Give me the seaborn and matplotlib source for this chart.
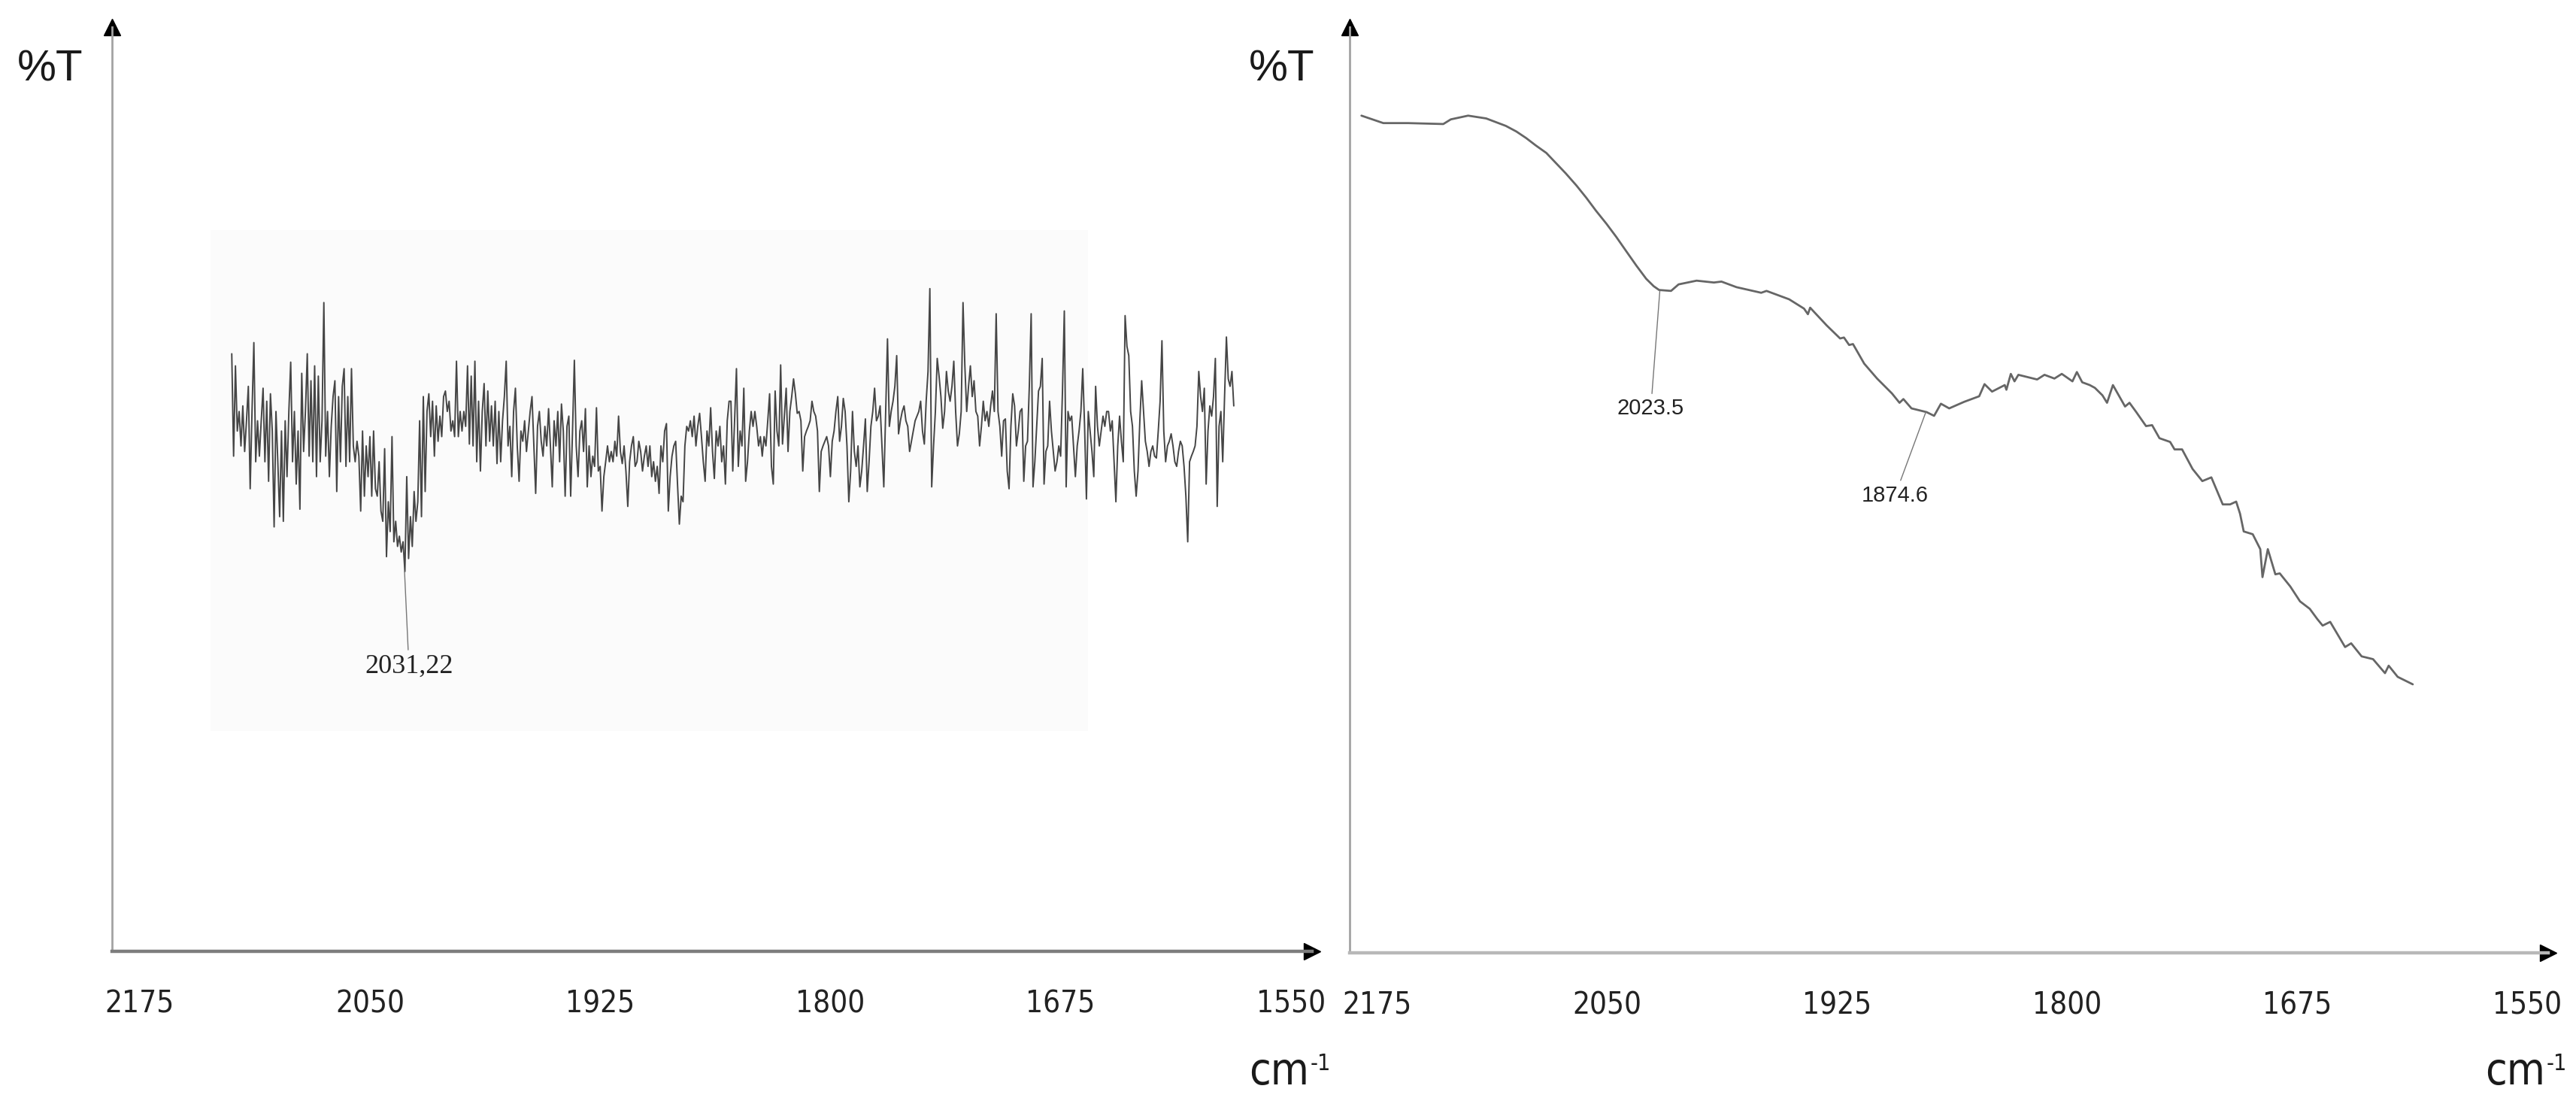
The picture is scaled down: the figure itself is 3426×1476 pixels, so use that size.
import matplotlib
matplotlib.use("Agg")
import matplotlib.pyplot as plt
from matplotlib.patches import Rectangle
from matplotlib.text import Annotation
import seaborn as sns

# IR spectra: wavenumber in cm-1, transmittance in arbitrary %T
wn_left = [
    2125, 2124, 2123, 2122, 2121, 2120, 2119, 2118, 2117, 2116, 2115, 2114, 2113, 2112, 2111, 2110, 2109, 2108, 2107, 2106, 2105, 2104, 2103, 2102, 2101,
    2100, 2099, 2098, 2097, 2096, 2095, 2094, 2093, 2092, 2091, 2090, 2089, 2088, 2087, 2086, 2085, 2084, 2083, 2082, 2081, 2080, 2079, 2078, 2077, 2076,
    2075, 2074, 2073, 2072, 2071, 2070, 2069, 2068, 2067, 2066, 2065, 2064, 2063, 2062, 2061, 2060, 2059, 2058, 2057, 2056, 2055, 2054, 2053, 2052, 2051,
    2050, 2049, 2048, 2047, 2046, 2045, 2044, 2043, 2042, 2041, 2040, 2039, 2038, 2037, 2036, 2035, 2034, 2033, 2032, 2031, 2030, 2029, 2028, 2027, 2026,
    2025, 2024, 2023, 2022, 2021, 2020, 2019, 2018, 2017, 2016, 2015, 2014, 2013, 2012, 2011, 2010, 2009, 2008, 2007, 2006, 2005, 2004, 2003, 2002, 2001,
    2000, 1999, 1998, 1997, 1996, 1995, 1994, 1993, 1992, 1991, 1990, 1989, 1988, 1987, 1986, 1985, 1984, 1983, 1982, 1981, 1980, 1979, 1978, 1977, 1976,
    1975, 1974, 1973, 1972, 1971, 1970, 1969, 1968, 1967, 1966, 1965, 1964, 1963, 1962, 1961, 1960, 1959, 1958, 1957, 1956, 1955, 1954, 1953, 1952, 1951,
    1950, 1949, 1948, 1947, 1946, 1945, 1944, 1943, 1942, 1941, 1940, 1939, 1938, 1937, 1936, 1935, 1934, 1933, 1932, 1931, 1930, 1929, 1928, 1927, 1926,
    1925, 1924, 1923, 1922, 1921, 1920, 1919, 1918, 1917, 1916, 1915, 1914, 1913, 1912, 1911, 1910, 1909, 1908, 1907, 1906, 1905, 1904, 1903, 1902, 1901,
    1900, 1899, 1898, 1897, 1896, 1895, 1894, 1893, 1892, 1891, 1890, 1889, 1888, 1887, 1886, 1885, 1884, 1883, 1882, 1881, 1880, 1879, 1878, 1877, 1876,
    1875, 1874, 1873, 1872, 1871, 1870, 1869, 1868, 1867, 1866, 1865, 1864, 1863, 1862, 1861, 1860, 1859, 1858, 1857, 1856, 1855, 1854, 1853, 1852, 1851,
    1850, 1849, 1848, 1847, 1846, 1845, 1844, 1843, 1842, 1841, 1840, 1839, 1838, 1837, 1836, 1835, 1834, 1833, 1832, 1831, 1830, 1829, 1828, 1827, 1826,
    1825, 1824, 1823, 1822, 1821, 1820, 1819, 1818, 1817, 1816, 1815, 1814, 1813, 1812, 1811, 1810, 1809, 1808, 1807, 1806, 1805, 1804, 1803, 1802, 1801,
    1800, 1799, 1798, 1797, 1796, 1795, 1794, 1793, 1792, 1791, 1790, 1789, 1788, 1787, 1786, 1785, 1784, 1783, 1782, 1781, 1780, 1779, 1778, 1777, 1776,
    1775, 1774, 1773, 1772, 1771, 1770, 1769, 1768, 1767, 1766, 1765, 1764, 1763, 1762, 1761, 1760, 1759, 1758, 1757, 1756, 1755, 1754, 1753, 1752, 1751,
    1750, 1749, 1748, 1747, 1746, 1745, 1744, 1743, 1742, 1741, 1740, 1739, 1738, 1737, 1736, 1735, 1734, 1733, 1732, 1731, 1730, 1729, 1728, 1727, 1726,
    1725, 1724, 1723, 1722, 1721, 1720, 1719, 1718, 1717, 1716, 1715, 1714, 1713, 1712, 1711, 1710, 1709, 1708, 1707, 1706, 1705, 1704, 1703, 1702, 1701,
    1700, 1699, 1698, 1697, 1696, 1695, 1694, 1693, 1692, 1691, 1690, 1689, 1688, 1687, 1686, 1685, 1684, 1683, 1682, 1681, 1680, 1679, 1678, 1677, 1676,
    1675, 1674, 1673, 1672, 1671, 1670, 1669, 1668, 1667, 1666, 1665, 1664, 1663, 1662, 1661, 1660, 1659, 1658, 1657, 1656, 1655, 1654, 1653, 1652, 1651,
    1650, 1649, 1648, 1647, 1646, 1645, 1644, 1643, 1642, 1641, 1640, 1639, 1638, 1637, 1636, 1635, 1634, 1633, 1632, 1631, 1630, 1629, 1628, 1627, 1626,
    1625, 1624, 1623, 1622, 1621, 1620, 1619, 1618, 1617, 1616, 1615, 1614, 1613, 1612, 1611, 1610, 1609, 1608, 1607, 1606, 1605, 1604, 1603, 1602, 1601,
    1600, 1599, 1598, 1597, 1596, 1595, 1594, 1593, 1592, 1591, 1590, 1589, 1588, 1587, 1586, 1585, 1584, 1583, 1582, 1581,
]
t_left = [
    64.2, 53.2, 62.9, 55.9, 58.0, 54.3, 58.6, 53.7, 57.0, 60.7, 49.7, 58.0, 65.4, 52.6, 57.0, 53.2, 57.0, 60.5, 52.6, 59.1, 50.5, 59.9, 55.9, 45.6, 58.0,
    52.6, 46.7, 55.9, 46.2, 57.0, 51.0, 58.0, 63.3, 52.6, 58.0, 50.2, 55.9, 47.5, 62.1, 53.7, 58.0, 64.2, 53.2, 61.3, 52.6, 62.9, 51.0, 61.8, 52.6, 57.0,
    69.7, 53.2, 58.0, 51.0, 56.4, 59.6, 61.3, 49.4, 59.6, 52.6, 60.7, 62.6, 52.1, 59.6, 52.6, 62.6, 54.3, 52.6, 54.8, 53.2, 47.3, 55.9, 48.9, 54.3, 51.0,
    55.3, 48.9, 55.9, 49.7, 48.9, 52.6, 47.3, 46.2, 54.0, 42.4, 48.3, 45.1, 55.3, 44.0, 46.2, 43.5, 44.6, 42.9, 44.0, 40.8, 51.0, 42.2, 46.7, 43.5, 49.4,
    46.2, 48.3, 57.0, 46.7, 59.6, 49.4, 58.0, 59.9, 55.3, 59.1, 53.2, 58.6, 54.8, 57.5, 55.3, 59.6, 60.2, 58.0, 59.1, 55.9, 57.0, 55.3, 63.4, 55.3, 58.0,
    55.9, 58.0, 56.4, 62.9, 54.5, 61.8, 54.3, 63.4, 52.6, 59.1, 51.6, 58.0, 61.0, 54.3, 60.2, 54.8, 58.6, 54.3, 59.1, 52.4, 58.0, 52.6, 57.0, 59.6, 63.4,
    54.3, 56.4, 51.0, 58.0, 60.5, 54.3, 50.5, 55.9, 54.8, 57.0, 53.7, 55.9, 58.0, 59.6, 54.3, 49.2, 56.4, 58.0, 54.8, 53.2, 56.4, 54.3, 58.3, 54.3, 49.9,
    57.0, 54.3, 58.0, 52.6, 58.8, 55.9, 48.9, 56.4, 57.5, 48.9, 55.9, 63.5, 54.3, 51.0, 55.9, 57.0, 53.7, 58.3, 49.9, 54.3, 51.0, 53.2, 52.1, 58.4, 51.6,
    52.1, 47.3, 51.0, 52.6, 54.3, 52.6, 53.7, 52.6, 54.8, 53.2, 57.5, 53.7, 52.4, 54.3, 51.6, 47.8, 52.6, 54.3, 55.3, 52.1, 52.6, 54.8, 53.7, 51.6, 53.2,
    54.3, 52.1, 54.3, 51.0, 52.6, 50.5, 52.1, 49.2, 54.3, 52.6, 55.9, 56.7, 47.3, 51.0, 53.2, 54.3, 54.8, 50.2, 45.9, 48.9, 48.3, 54.3, 56.4, 55.9, 57.0,
    55.3, 57.5, 54.3, 56.4, 57.8, 55.3, 52.6, 50.5, 55.9, 54.3, 58.4, 53.7, 50.8, 55.9, 54.3, 56.4, 52.6, 54.3, 50.2, 57.0, 59.1, 59.1, 51.6, 57.0, 62.6,
    52.1, 55.9, 54.3, 60.5, 50.5, 52.6, 55.9, 58.0, 56.4, 58.0, 56.4, 54.3, 55.3, 53.2, 55.3, 54.3, 57.0, 59.9, 52.1, 50.2, 60.2, 55.9, 54.3, 63.0, 54.5,
    57.5, 60.5, 53.7, 58.0, 59.6, 61.5, 59.9, 57.8, 58.0, 57.0, 51.6, 55.3, 55.9, 56.4, 57.0, 59.1, 58.0, 57.5, 55.9, 49.4, 53.7, 54.3, 54.8, 55.3, 54.3,
    51.0, 54.8, 55.9, 58.0, 59.6, 54.8, 56.4, 59.4, 58.0, 54.3, 48.3, 51.6, 58.0, 53.7, 52.1, 54.3, 49.9, 51.6, 54.3, 57.2, 49.4, 52.6, 56.4, 58.0, 60.5,
    57.0, 57.5, 58.6, 54.3, 49.9, 58.0, 65.8, 56.4, 58.0, 59.1, 60.7, 64.0, 55.6, 57.0, 58.0, 58.6, 57.0, 56.4, 53.7, 54.8, 55.9, 57.0, 57.5, 58.0, 59.1,
    55.9, 54.5, 59.1, 62.3, 71.2, 49.9, 54.3, 58.0, 63.7, 61.8, 59.6, 56.2, 58.0, 62.3, 60.2, 59.1, 60.7, 63.4, 58.0, 54.3, 55.6, 58.0, 69.7, 62.9, 58.0,
    60.7, 62.9, 59.6, 61.3, 58.0, 57.5, 54.3, 56.4, 59.1, 57.0, 58.0, 56.4, 58.6, 60.2, 58.0, 68.5, 58.0, 56.4, 53.2, 57.0, 57.2, 51.6, 49.7, 56.4, 59.9,
    58.6, 54.3, 55.9, 58.0, 58.3, 50.5, 54.3, 54.8, 60.7, 68.5, 49.9, 52.6, 56.4, 60.2, 60.7, 63.7, 50.2, 53.7, 54.3, 59.1, 55.9, 53.7, 51.6, 52.6, 54.3,
    53.2, 60.2, 68.8, 49.9, 58.0, 57.0, 57.5, 54.3, 51.0, 54.3, 55.9, 58.0, 62.6, 56.4, 48.6, 58.0, 55.9, 53.7, 51.0, 60.7, 56.4, 54.3, 55.9, 57.5, 56.4,
    58.0, 58.0, 55.9, 57.0, 52.6, 48.3, 54.3, 57.5, 54.8, 52.6, 68.3, 65.0, 64.0, 58.0, 56.4, 51.6, 48.9, 51.6, 57.0, 61.3, 58.0, 54.8, 53.7, 52.1, 53.7,
    54.3, 53.2, 53.0, 55.9, 59.1, 65.6, 55.9, 52.6, 54.3, 54.8, 55.6, 54.3, 52.6, 52.1, 53.7, 54.8, 54.3, 52.1, 48.9, 44.0, 52.6, 53.2, 53.7, 54.3, 56.4,
    62.3, 59.6, 58.0, 60.5, 50.2, 55.9, 58.6, 57.5, 59.6, 63.7, 47.8, 56.4, 58.0, 52.6, 59.6, 66.0, 61.5, 60.7, 62.3, 58.6,
]

wn_right = [
    2183.6, 2171.7, 2158.3, 2139.1, 2135.0, 2125.6, 2115.8, 2105.1, 2099.4, 2094.1,
    2088.8, 2083.1, 2077.8, 2072.5, 2066.7, 2061.4, 2056.1, 2050.4, 2045.1, 2039.8,
    2034.1, 2028.8, 2024.7, 2021.8, 2015.3, 2011.2, 2001.4, 1992.0, 1987.9, 1979.7,
    1966.3, 1963.4, 1951.1, 1943.0, 1940.9, 1939.7, 1930.7, 1923.4, 1921.3, 1918.5,
    1916.4, 1910.3, 1903.3, 1895.2, 1891.1, 1889.0, 1884.6, 1876.4, 1872.3, 1868.6,
    1864.1, 1856.0, 1847.8, 1844.9, 1840.8, 1833.9, 1833.0, 1830.6, 1828.6, 1826.5,
    1816.3, 1812.3, 1806.9, 1802.9, 1797.1, 1794.7, 1791.8, 1787.7, 1784.9, 1780.8,
    1778.3, 1775.1, 1768.5, 1766.1, 1762.4, 1757.1, 1753.8, 1749.8, 1744.0, 1741.6,
    1737.5, 1731.8, 1726.5, 1721.6, 1715.4, 1711.4, 1708.1, 1706.0, 1704.0, 1699.1,
    1695.0, 1693.8, 1690.9, 1686.8, 1684.4, 1678.7, 1673.4, 1668.1, 1664.0, 1661.1,
    1657.0, 1648.9, 1645.6, 1639.9, 1633.7, 1627.2, 1625.2, 1620.3, 1612.1,
]
t_right = [
    89.8, 89.0, 89.0, 88.9, 89.4, 89.8, 89.5, 88.7, 88.1, 87.4,
    86.6, 85.8, 84.7, 83.6, 82.3, 81.0, 79.6, 78.2, 76.8, 75.3,
    73.7, 72.3, 71.5, 71.1, 71.0, 71.7, 72.1, 71.9, 72.0, 71.4,
    70.8, 71.0, 70.1, 69.1, 68.5, 69.2, 67.3, 65.9, 66.0, 65.2,
    65.3, 63.2, 61.6, 60.0, 59.0, 59.4, 58.4, 58.0, 57.6, 58.9,
    58.4, 59.1, 59.7, 61.0, 60.2, 60.9, 60.4, 62.1, 61.3, 62.0,
    61.5, 62.0, 61.6, 62.1, 61.3, 62.3, 61.2, 60.9, 60.6, 59.8,
    59.0, 60.9, 58.6, 59.0, 58.0, 56.5, 56.6, 55.2, 54.8, 54.0,
    54.0, 51.9, 50.6, 51.0, 48.1, 48.1, 48.4, 47.1, 45.2, 44.9,
    43.3, 40.3, 43.3, 40.6, 40.7, 39.3, 37.7, 36.9, 35.8, 35.1,
    35.5, 32.8, 33.2, 31.8, 31.5, 30.0, 30.8, 29.6, 28.8,
]

x_ticks = [2175, 2050, 1925, 1800, 1675, 1550]

# peak labels: (label, peak wavenumber, peak %T, label wavenumber, label top %T)
peaks_left = [("2031,22", 2031.2, 40.8, 2028.8, 31.9)]
peaks_right = [("2023.5", 2021.4, 71.0, 2026.3, 59.5),
               ("1874.6", 1876.8, 58.0, 1893.5, 50.2)]

sns.set_theme(style="white")
sans = ["Liberation Sans", "DejaVu Sans"]
plt.rcParams["font.family"] = sans

W, H = 3426, 1476
fig = plt.figure(figsize=(W / 100, H / 100), dpi=100)
fig.patch.set_facecolor("white")

# very faint grey patch left behind by the scanned chart
fig.add_artist(Rectangle((280 / W, 1 - 972 / H), (1447 - 280) / W, (972 - 306) / H,
                         transform=fig.transFigure, color="#fbfbfb", zorder=0, lw=0))


def make_axes(left_px, right_px, bottom_px, top_px, xaxis_color):
    ax = fig.add_axes([left_px / W, 1 - bottom_px / H, (right_px - left_px) / W, (bottom_px - top_px) / H])
    ax.set_facecolor("none")
    ax.set_xlim(2190, 1538.5)
    ax.set_ylim(0, 99.3)
    for s in ["top", "right"]:
        ax.spines[s].set_visible(False)
    ax.spines["left"].set_color("#a3a3a3")
    ax.spines["left"].set_linewidth(2.0)
    ax.spines["bottom"].set_color(xaxis_color)
    ax.spines["bottom"].set_linewidth(3.2)
    ax.set_yticks([])
    ax.set_xticks(x_ticks)
    ax.set_xticklabels([str(t) for t in x_ticks])
    ax.tick_params(axis="x", direction="inout", length=21, width=1.0, color="#444444",
                   pad=26, labelsize=29, labelcolor="#222222")
    for lbl in ax.get_xticklabels():
        lbl.set_fontfamily(["DejaVu Sans"])
        lbl.set_fontstretch("condensed")
    # arrow heads on the axes
    ax.plot(1, 0, ">", color="black", ms=16, transform=ax.transAxes, clip_on=False)
    ax.plot(0, 1, "^", color="black", ms=16, transform=ax.transAxes, clip_on=False)
    return ax


ax1 = make_axes(149, 1745, 1265, 36, "#7d7d7d")
ax2 = make_axes(1795, 3389, 1267, 36, "#b8b8b8")

sns.lineplot(x=wn_left, y=t_left, ax=ax1, color="#454545", linewidth=1.4,
             estimator=None, sort=False)
sns.lineplot(x=wn_right, y=t_right, ax=ax2, color="#666666", linewidth=2.0,
             estimator=None, sort=False)
for ax in (ax1, ax2):
    ax.set_xlabel("")
    ax.set_ylabel("")

for lab, px, py, tx, ty in peaks_left:
    ax1.annotate(lab, xy=(px, py), xytext=(tx, ty), ha="center", va="top",
                 fontsize=26, color="#222222", family=["Liberation Serif", "DejaVu Serif"],
                 arrowprops=dict(arrowstyle="-", color="#777777", lw=1.0, shrinkA=2, shrinkB=0))
for lab, px, py, tx, ty in peaks_right:
    ax2.annotate(lab, xy=(px, py), xytext=(tx, ty), ha="center", va="top",
                 fontsize=21, color="#222222", family=sans,
                 arrowprops=dict(arrowstyle="-", color="#777777", lw=1.0, shrinkA=2, shrinkB=0))

# axis captions
for x0 in (23, 1661):
    fig.text(x0 / W, 1 - 108 / H, "%T", fontsize=42, color="#1a1a1a", ha="left", va="baseline",
             family=sans)
for x0 in (1661, 3305):
    cm = fig.text(x0 / W, 1 - 1442 / H, "cm", fontsize=42, color="#1a1a1a", ha="left",
                  va="baseline", family=["DejaVu Sans"], fontstretch="condensed")
    sup = Annotation("-1", xy=(1.0, 0.0), xycoords=cm, xytext=(1, 22), textcoords="offset points",
                     fontsize=22, color="#1a1a1a", ha="left", va="baseline",
                     family=["DejaVu Sans"], fontstretch="condensed")
    fig.add_artist(sup)

fig.savefig("out.png", dpi=100, facecolor="white")
